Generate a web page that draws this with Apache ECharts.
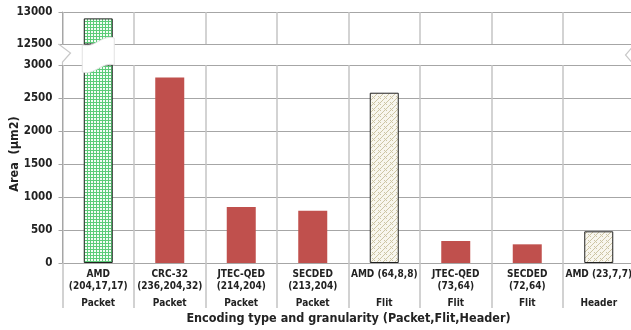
<!DOCTYPE html>
<html><head><meta charset="utf-8">
<script src="https://cdn.jsdelivr.net/npm/echarts@6/dist/echarts.min.js"></script>
<style>html,body{margin:0;padding:0;background:#fff}#c{width:631px;height:330px}</style>
</head><body><div id="c"></div>
<script>
const categories = ['AMD\n(204,17,17)', 'CRC-32\n(236,204,32)', 'JTEC-QED\n(214,204)', 'SECDED\n(213,204)', 'AMD (64,8,8)', 'JTEC-QED\n(73,64)', 'SECDED\n(72,64)', 'AMD (23,7,7)'];
const granularity = ['Packet', 'Packet', 'Packet', 'Packet', 'Flit', 'Flit', 'Flit', 'Header'];
const areaValues = [12900, 2810, 850, 790, 2580, 333, 283, 480];
const upperTicks = [12500, 13000];
const lowerTicks = [0, 500, 1000, 1500, 2000, 2500, 3000];

const FONT = 'DejaVu Sans Condensed';
function pattern(w, h, draw) {
  const c = document.createElement('canvas'); c.width = w; c.height = h;
  draw(c.getContext('2d')); return { image: c, repeat: 'repeat' };
}
const greenFill = pattern(3, 3, g => {
  g.fillStyle = '#f4fcf6'; g.fillRect(0, 0, 3, 3);
  g.fillStyle = '#5ccc78'; g.fillRect(0, 0, 3, 1); g.fillRect(0, 0, 1, 3);
});
const beigeFill = pattern(6, 6, g => {
  g.fillStyle = '#f8f6ee'; g.fillRect(0, 0, 6, 6);
  g.fillStyle = '#cdc5a4';
  for (let i = 0; i < 6; i++) g.fillRect((i + 3) % 6, 5 - i, 1, 1);
  g.fillRect(0, 0, 1, 1); g.fillRect(2, 2, 1, 1); g.fillRect(4, 4, 1, 1);
});
function styleFor(i) {
  if (i === 0) return { color: greenFill, borderColor: '#222', borderWidth: 1 };
  if (categories[i].startsWith('AMD')) return { color: beigeFill, borderColor: '#222', borderWidth: 1 };
  return { color: '#c0504d' };
}
const barData = areaValues.map((v, i) => ({ value: v, itemStyle: styleFor(i) }));

const gridLeft = 62.5, gridWidth = 572;
const chart = echarts.init(document.getElementById('c'), null, { renderer: 'canvas' });
const axisGray = '#a6a6a6';
const vGray = '#c4c4c4';
const lab = { color: '#222', fontFamily: FONT, fontWeight: 'bold' };
chart.setOption({
  animation: false,
  textStyle: { fontFamily: FONT },
  grid: [
    { left: gridLeft, width: gridWidth, top: 12, height: 32, containLabel: false, outerBoundsMode: 'none' },
    { left: gridLeft, width: gridWidth, top: 65, height: 198, containLabel: false, outerBoundsMode: 'none' }
  ],
  xAxis: [
    { type: 'category', gridIndex: 0, data: categories, axisLabel: { show: false }, axisTick: { show: false },
      axisLine: { show: false }, splitLine: { show: true, interval: 0, lineStyle: { color: vGray, width: 1.5 } } },
    { type: 'category', gridIndex: 1, data: categories,
      axisLine: { lineStyle: { color: axisGray, width: 1 } },
      axisTick: { show: true, interval: 0, length: 45, lineStyle: { color: vGray, width: 1.5 } },
      splitLine: { show: true, interval: 0, lineStyle: { color: vGray, width: 1.5 } },
      axisLabel: Object.assign({ interval: 0, margin: 6, fontSize: 10, lineHeight: 11.5 }, lab),
      name: 'Encoding type and granularity (Packet,Flit,Header)', nameLocation: 'middle', nameGap: 49,
      nameMoveOverlap: false,
      nameTextStyle: Object.assign({ fontSize: 12.5 }, lab) },
    { type: 'category', gridIndex: 1, data: granularity, position: 'bottom',
      axisLine: { show: false }, axisTick: { show: false },
      axisLabel: Object.assign({ interval: 0, margin: 35.5, fontSize: 10 }, lab) }
  ],
  yAxis: [
    { type: 'value', gridIndex: 0, min: upperTicks[0], max: upperTicks[upperTicks.length - 1], interval: upperTicks[1] - upperTicks[0],
      axisLine: { show: true, lineStyle: { color: axisGray } }, axisTick: { show: true, length: 4, lineStyle: { color: axisGray } },
      splitLine: { lineStyle: { color: axisGray, width: 1.2 } },
      axisLabel: Object.assign({ margin: 10, fontSize: 11.5, formatter: v => String(v) }, lab) },
    { type: 'value', gridIndex: 1, min: lowerTicks[0], max: lowerTicks[lowerTicks.length - 1], interval: lowerTicks[1] - lowerTicks[0],
      axisLine: { show: true, lineStyle: { color: axisGray } }, axisTick: { show: true, length: 4, lineStyle: { color: axisGray } },
      splitLine: { lineStyle: { color: axisGray, width: 1.2 } },
      axisLabel: Object.assign({ margin: 10, fontSize: 11.5, formatter: v => String(v) }, lab),
      name: 'Area  (µm2)', nameLocation: 'middle', nameGap: 41, nameRotate: 90, nameMoveOverlap: false,
      nameTextStyle: Object.assign({ fontSize: 12.5, padding: [0, 0, 0, 20] }, lab) }
  ],
  series: [
    { type: 'bar', xAxisIndex: 0, yAxisIndex: 0, data: barData, barWidth: 29, clip: true },
    { type: 'bar', xAxisIndex: 1, yAxisIndex: 1, data: barData, barWidth: 29, clip: true }
  ]
});

// axis-break decoration
const topY = chart.convertToPixel({ yAxisIndex: 0 }, upperTicks[0]);
const botY = chart.convertToPixel({ yAxisIndex: 1 }, lowerTicks[lowerTicks.length - 1]);
const rightX = gridLeft + gridWidth;
const cx = chart.convertToPixel({ xAxisIndex: 1 }, 0);
const L = cx - 16, R = cx + 16;
function bez(p0, p1, p2, p3, n) {
  const out = [];
  for (let k = 0; k <= n; k++) {
    const t = k / n, u = 1 - t;
    out.push([u*u*u*p0[0] + 3*u*u*t*p1[0] + 3*u*t*t*p2[0] + t*t*t*p3[0],
              u*u*u*p0[1] + 3*u*u*t*p1[1] + 3*u*t*t*p2[1] + t*t*t*p3[1]]);
  }
  return out;
}
const topEdge = bez([L, topY + 1], [L + 12, topY + 5], [R - 12, topY - 10], [R, topY - 6], 16);
const botEdge = bez([R, botY], [R - 12, botY - 4], [L + 12, botY + 11], [L, botY + 7], 16);
const wavePts = topEdge.concat(botEdge);
chart.setOption({
  graphic: [
    { type: 'rect', shape: { x: gridLeft - 1, y: topY + 1, width: 4, height: botY - topY - 2 }, style: { fill: '#fff' }, z: 100 },
    { type: 'polygon', shape: { points: wavePts }, style: { fill: '#fff', stroke: '#e2e2e2', lineWidth: 1 }, z: 100 },
    { type: 'polyline', shape: { points: [[gridLeft - 4, topY], [gridLeft + 8, topY + 9], [gridLeft, botY - 3], [gridLeft, botY]] }, style: { stroke: '#c8c8c8', lineWidth: 1.2, fill: null }, z: 101 },
    { type: 'polyline', shape: { points: [[rightX - 3, topY + 4], [rightX - 9, topY + 11], [rightX - 3, topY + 18]] }, style: { stroke: '#c8c8c8', lineWidth: 1.2, fill: null }, z: 101 }
  ]
});
</script></body></html>
